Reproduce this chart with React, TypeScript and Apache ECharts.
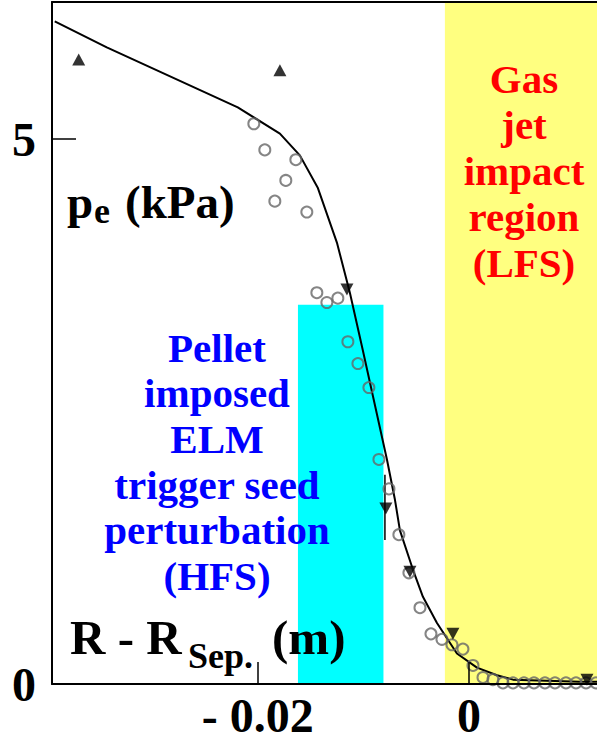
import React, { useEffect, useRef } from "react";
import * as echarts from "echarts";

// Axis ranges
const xMin = -0.0395;
const xMax = 0.01213;
const yMax = 6.257;
const xTickValues = [-0.02, 0];
const yLabelValues = [0, 5];
const yTickValues = [5];

// Fitted profile (solid line)
const lineX = [-0.03924, -0.03431, -0.0219, -0.01791, -0.01602, -0.01431, -0.01251, -0.01128, -0.01005, -0.00777, -0.00701, -0.00654, -0.00531, -0.00436, -0.00303, -0.00114, 0.00076, 0.00265, 0.00417, 0.01052, 0.01213];
const lineY = [6.08, 5.84, 5.29, 5.05, 4.85, 4.55, 4.05, 3.59, 3.06, 2.06, 1.69, 1.41, 1.05, 0.8, 0.56, 0.28, 0.15, 0.08, 0.04, 0.02, 0.02];

// Open circles
const circleX = [-0.02038, -0.01934, -0.0164, -0.01735, -0.01839, -0.01536, -0.01441, -0.01346, -0.01242, -0.01147, -0.01052, -0.00948, -0.00853, -0.00758, -0.00664, -0.00569, -0.00464, -0.0036, -0.00256, -0.00161, -0.00057, 0.00038, 0.00133, 0.00227, 0.00322, 0.00417, 0.00521, 0.00616, 0.0072, 0.00815, 0.00919, 0.01014, 0.01109, 0.01204];
const circleY = [5.14, 4.9, 4.81, 4.62, 4.43, 4.33, 3.59, 3.5, 3.54, 3.14, 2.94, 2.72, 2.06, 1.79, 1.37, 1.02, 0.7, 0.46, 0.41, 0.36, 0.32, 0.17, 0.06, 0.04, 0.01, 0.01, 0.01, 0.01, 0.01, 0.01, 0.01, 0.01, 0.01, 0.01];

// Filled up-triangles
const upX = [-0.03697, -0.01791];
const upY = [5.73, 5.63];

// Filled down-triangles
const downX = [-0.01156, -0.00787, -0.00559, -0.00152, 0.01118];
const downY = [3.62, 1.61, 1.03, 0.46, 0.04];

// Error bar on one down-triangle
const errX = [-0.00796, -0.00796];
const errY = [1.92, 1.32];

// Shaded regions
const hfsX = [-0.0162, -0.0081];
const hfsY = [0, 3.48];
const lfsX = [-0.00228, 0.01213];
const lfsY = [0, 6.257];

const zip = (xs: number[], ys: number[]) => xs.map((x, i) => [x, ys[i]]);

const SERIF = '"Liberation Serif", "Times New Roman", serif';

export default function App() {
  const ref = useRef<HTMLDivElement>(null);
  useEffect(() => {
    if (!ref.current) return;
    const chart = echarts.init(ref.current, undefined, { renderer: "svg" });
    const labelStyle = {
      color: "#000",
      fontSize: 48,
      fontWeight: "bold" as const,
      fontFamily: SERIF,
    };
    const txt = (text: string, x: number, y: number, size: number, color: string, align = "left", lineHeight?: number) => ({
      type: "text",
      x,
      y,
      z: 100,
      silent: true,
      style: {
        text,
        fill: color,
        font: `bold ${size}px ${SERIF}`,
        fontSize: size,
        fontWeight: "bold",
        fontFamily: SERIF,
        align,
        verticalAlign: lineHeight ? "top" : "middle",
        lineHeight: lineHeight || size,
      },
    });
    chart.setOption({
      animation: false,
      grid: { left: 52, right: 0, top: 2, bottom: 61 },
      xAxis: [
        {
          type: "value",
          min: xMin,
          max: xMax,
          position: "bottom",
          z: 10,
          axisLine: { show: true, onZero: false, lineStyle: { color: "#000", width: 2 } },
          axisTick: { show: true, inside: true, length: 22, customValues: xTickValues, lineStyle: { color: "#000", width: 1.5 } },
          axisLabel: {
            show: true,
            customValues: xTickValues,
            formatter: (v: number) => (v === 0 ? "0" : "- " + Math.abs(v).toFixed(2)),
            margin: 7,
            ...labelStyle,
          },
          splitLine: { show: false },
        },
        {
          type: "value",
          min: xMin,
          max: xMax,
          position: "top",
          z: 10,
          axisLine: { show: true, onZero: false, lineStyle: { color: "#000", width: 2 } },
          axisTick: { show: false },
          axisLabel: { show: false },
          splitLine: { show: false },
        },
      ],
      yAxis: {
        type: "value",
        min: 0,
        max: yMax,
        z: 10,
        axisLine: { show: true, onZero: false, lineStyle: { color: "#000", width: 2 } },
        axisTick: { show: true, inside: true, length: 24, customValues: yTickValues, lineStyle: { color: "#000", width: 1.5 } },
        axisLabel: { show: true, customValues: yLabelValues, margin: 16, ...labelStyle },
        splitLine: { show: false },
      },
      series: [
        {
          type: "line",
          data: zip(lineX, lineY),
          symbol: "none",
          z: 3,
          lineStyle: { color: "#000", width: 2 },
          markArea: {
            silent: true,
            label: { show: false },
            data: [
              [
                { xAxis: hfsX[0], yAxis: hfsY[0], itemStyle: { color: "#00FFFF" } },
                { xAxis: hfsX[1], yAxis: hfsY[1] },
              ],
              [
                { xAxis: lfsX[0], yAxis: lfsY[0], itemStyle: { color: "#FFFF80" } },
                { xAxis: lfsX[1], yAxis: lfsY[1] },
              ],
            ],
          },
        },
        {
          type: "line",
          data: zip(errX, errY),
          symbol: "none",
          z: 3,
          lineStyle: { color: "#000", width: 1.5 },
        },
        {
          type: "scatter",
          data: zip(circleX, circleY),
          symbol: "circle",
          symbolSize: 11,
          z: 4,
          itemStyle: { color: "rgba(0,0,0,0)", borderColor: "#666", borderWidth: 2 },
        },
        {
          type: "scatter",
          data: zip(upX, upY),
          symbol: "triangle",
          symbolSize: [13, 12],
          z: 5,
          itemStyle: { color: "#000" },
        },
        {
          type: "scatter",
          data: zip(downX, downY),
          symbol: "triangle",
          symbolRotate: 180,
          symbolSize: [13, 12],
          z: 5,
          itemStyle: { color: "#000" },
        },
      ],
      graphic: [
        txt("Gas\njet\nimpact\nregion\n(LFS)", 524, 56, 41, "#FF0000", "center", 46),
        txt("Pellet\nimposed\nELM\ntrigger seed\nperturbation\n(HFS)", 217, 325, 41, "#0000FF", "center", 45.6),
        txt("p", 67, 202, 47, "#000"),
        txt("e", 94, 211, 36, "#000"),
        txt("(kPa)", 125, 202, 47, "#000"),
        txt("R - R", 70, 637, 49, "#000"),
        txt("Sep.", 188, 656, 36, "#000"),
        txt("(m)", 272, 637, 49, "#000"),
      ],
    });
    return () => chart.dispose();
  }, []);
  return (
    <div
      ref={ref}
      style={{ position: "fixed", left: 0, top: 0, width: 597, height: 745, background: "#fff" }}
    />
  );
}
